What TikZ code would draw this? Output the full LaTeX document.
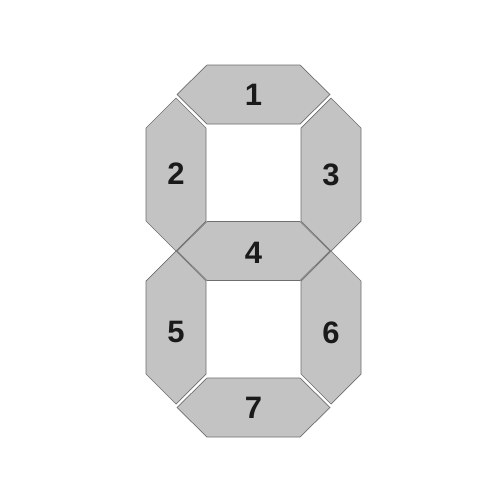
\documentclass[tikz,border=0pt]{standalone}
\usepackage{fontspec}
\setmainfont{Liberation Sans}
\definecolor{segfill}{HTML}{C3C3C3}
\definecolor{segline}{HTML}{6E6E6E}
\definecolor{lblcol}{HTML}{1A1A1A}
\newcommand\hsegment[2]{%
  \draw[seg] (#1-76.5,#2) -- (#1-46.5,#2-29.5) -- (#1+46.5,#2-29.5) -- (#1+76.5,#2)
    -- (#1+46.5,#2+29.5) -- (#1-46.5,#2+29.5) -- cycle;}
\newcommand\vsegment[2]{%
  \draw[seg] (#1,#2-76.5) -- (#1+30,#2-46.5) -- (#1+30,#2+46.5) -- (#1,#2+76.5)
    -- (#1-30,#2+46.5) -- (#1-30,#2-46.5) -- cycle;}
\tikzset{
  seg/.style={fill=segfill, draw=segline, line width=0.7pt, line join=miter},
  lbl/.style={font=\bfseries\fontsize{31}{31}\selectfont, text=lblcol, inner sep=0pt}
}
\begin{document}
\begin{tikzpicture}[x=1pt,y=-1pt]
\useasboundingbox (0,0) rectangle (493,493);
\fill[white] (0,0) rectangle (493,493);
% segments
\vsegment{176}{174.5}
\vsegment{331}{174.5}
\vsegment{176}{327.5}
\vsegment{331}{327.5}
\hsegment{253.5}{94.5}
\hsegment{253.5}{251}
\hsegment{253.5}{407.5}
% labels
\node[lbl] (l1) at (253.5,94.5) {1};
\node[lbl] (l2) at (176,174) {2};
\node[lbl] (l3) at (331,175) {3};
\node[lbl] (l4) at (253.5,253) {4};
\node[lbl] (l5) at (176,332) {5};
\node[lbl] (l6) at (331,333) {6};
\node[lbl] (l7) at (253.5,407.5) {7};
\end{tikzpicture}
\end{document}
